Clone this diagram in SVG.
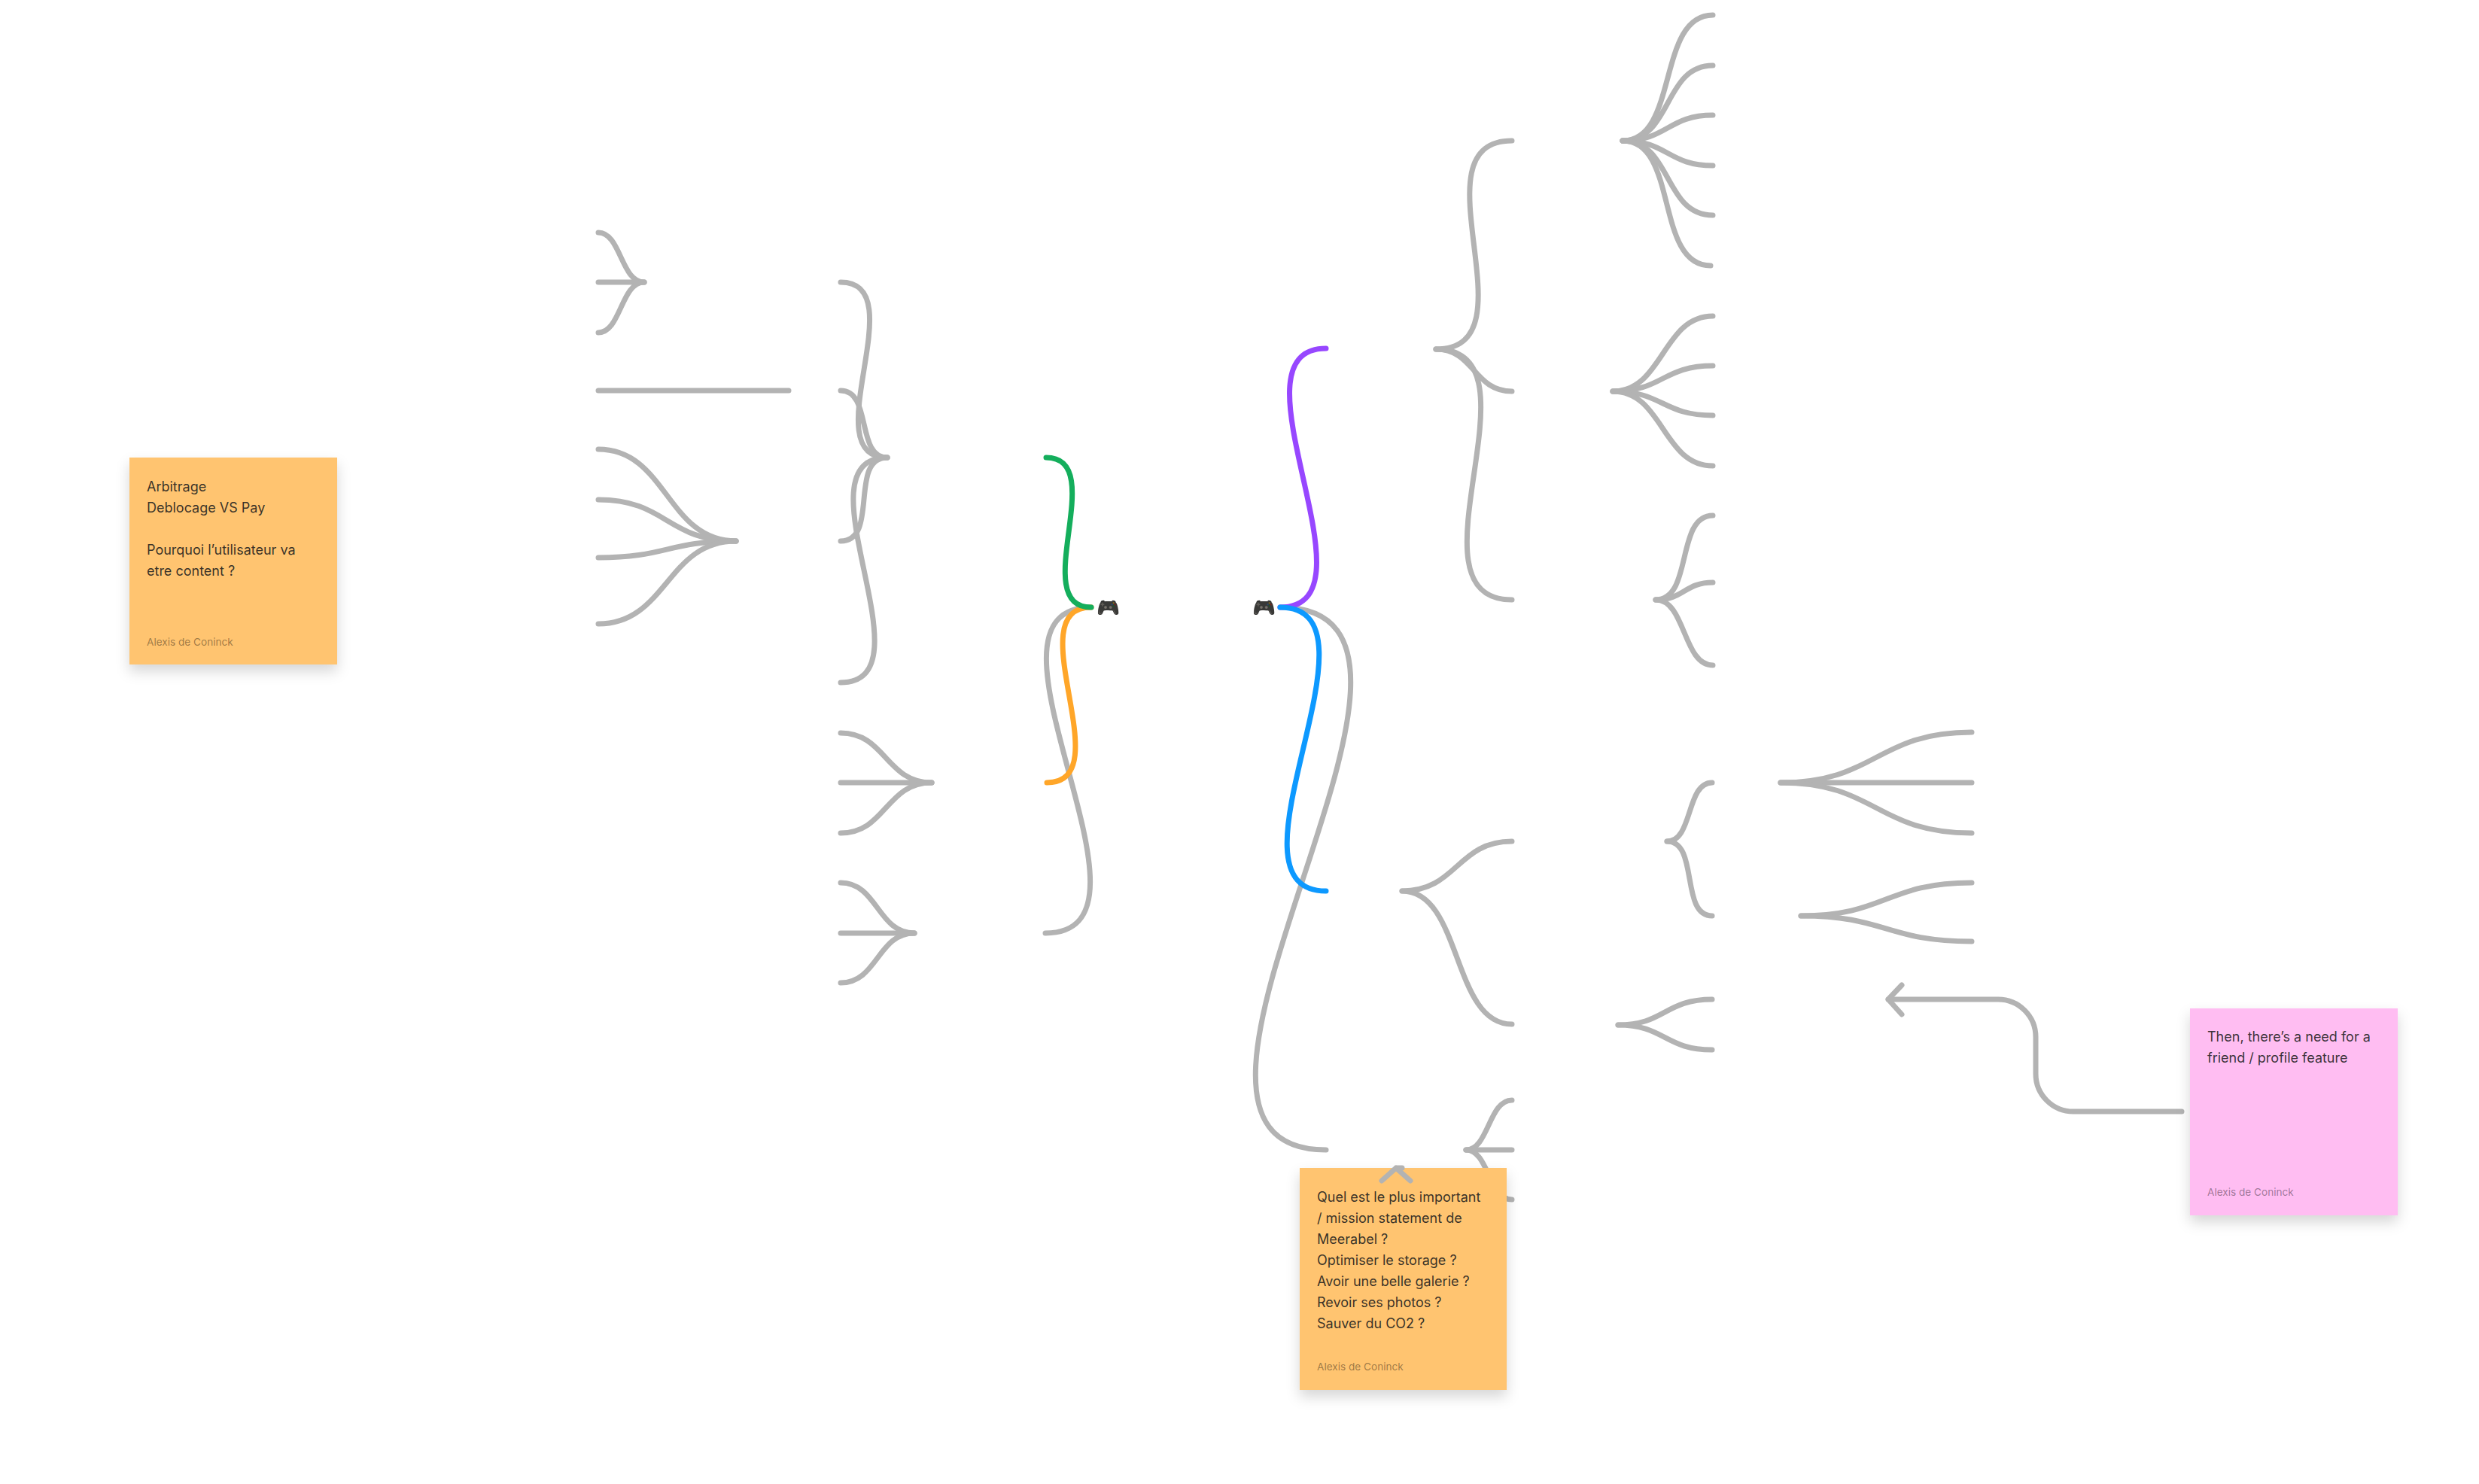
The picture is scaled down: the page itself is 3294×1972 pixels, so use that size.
<svg xmlns="http://www.w3.org/2000/svg" width="3294" height="1972" viewBox="0 0 3294 1972">
<style>
.c{fill:none;stroke:#b3b3b3;stroke-width:7;stroke-linecap:round;stroke-linejoin:round}
.t{font-family:Inter,"Liberation Sans",sans-serif;font-size:18px;fill:#1e1e1e;fill-opacity:.9}
.a{font-family:Inter,"Liberation Sans",sans-serif;font-size:13.6px;fill:#000;fill-opacity:.4}
.e{font-family:"Noto Color Emoji","Noto Sans",sans-serif;font-size:25px;filter:brightness(.55) sepia(.25)}
</style>
<defs>
<filter id="sh" x="-20%" y="-20%" width="140%" height="150%">
<feDropShadow dx="0" dy="9" stdDeviation="9" flood-color="#000" flood-opacity=".16"/>
</filter>
</defs>
<rect width="3294" height="1972" fill="#fff"/>
<g id="connectors">
<path class="c" d="M795 309C825 309 825 375 856 375"/>
<path class="c" d="M795 375H856"/>
<path class="c" d="M795 442C825 442 825 375 856 375"/>
<path class="c" d="M795 519H1048"/>
<path class="c" d="M795 597C886 597 886 719 978 719"/>
<path class="c" d="M795 664C886 664 886 719 978 719"/>
<path class="c" d="M795 741C886 741 886 719 978 719"/>
<path class="c" d="M795 829C886 829 886 719 978 719"/>
<path class="c" d="M1117 375C1217 375 1079 608 1179 608"/>
<path class="c" d="M1117 519C1159 519 1137 608 1179 608"/>
<path class="c" d="M1117 719C1169 719 1127 608 1179 608"/>
<path class="c" d="M1117 907C1242 907 1054 608 1179 608"/>
<path class="c" d="M1117 974C1177 974 1177 1040 1238 1040"/>
<path class="c" d="M1117 1040H1238"/>
<path class="c" d="M1117 1107C1177 1107 1177 1040 1238 1040"/>
<path class="c" d="M1117 1173C1166 1173 1166 1240 1215 1240"/>
<path class="c" d="M1117 1240H1215"/>
<path class="c" d="M1117 1306C1166 1306 1166 1240 1215 1240"/>
<path class="c" d="M1389 1240C1567 1240 1272 807 1450 807"/>
<path class="c" style="stroke:#ffa629" d="M1391 1040C1491 1040 1350 807 1450 807"/>
<path class="c" style="stroke:#14ae5c" d="M1390 608C1476 608 1364 807 1450 807"/>
<path class="c" d="M1701 807C1999 807 1464 1528 1762 1528"/>
<path class="c" style="stroke:#9747ff" d="M1701 807C1839 807 1624 463 1762 463"/>
<path class="c" style="stroke:#0d99ff" d="M1701 807C1851 807 1612 1184 1762 1184"/>
<path class="c" d="M1863 1184C1936 1184 1936 1118 2009 1118"/>
<path class="c" d="M1863 1184C1943 1184 1929 1361 2009 1361"/>
<path class="c" d="M1948 1528C1978 1528 1978 1462 2009 1462"/>
<path class="c" d="M1948 1528H2009"/>
<path class="c" d="M1948 1528C1978 1528 1978 1594 2009 1594"/>
<path class="c" d="M1908 464C2043 464 1874 187 2009 187"/>
<path class="c" d="M1908 464C1959 464 1958 520 2009 520"/>
<path class="c" d="M1908 464C2058 464 1859 797 2009 797"/>
<path class="c" d="M2156 187C2231 187 2201 20 2276 20"/>
<path class="c" d="M2156 187C2222 187 2210 87 2276 87"/>
<path class="c" d="M2156 187C2216 187 2216 153 2276 153"/>
<path class="c" d="M2156 187C2216 187 2216 220 2276 220"/>
<path class="c" d="M2156 187C2222 187 2210 286 2276 286"/>
<path class="c" d="M2156 187C2231 187 2198 353 2273 353"/>
<path class="c" d="M2143 520C2210 520 2209 420 2276 420"/>
<path class="c" d="M2143 520C2210 520 2209 486 2276 486"/>
<path class="c" d="M2143 520C2210 520 2209 552 2276 552"/>
<path class="c" d="M2143 520C2210 520 2209 619 2276 619"/>
<path class="c" d="M2200 797C2250 797 2226 685 2276 685"/>
<path class="c" d="M2200 797C2238 797 2238 774 2276 774"/>
<path class="c" d="M2200 797C2240 797 2236 884 2276 884"/>
<path class="c" d="M2215 1118C2250 1118 2240 1040 2275 1040"/>
<path class="c" d="M2215 1118C2258 1118 2232 1217 2275 1217"/>
<path class="c" d="M2366 1040C2493 1040 2493 973 2620 973"/>
<path class="c" d="M2366 1040H2620"/>
<path class="c" d="M2366 1040C2493 1040 2493 1107 2620 1107"/>
<path class="c" d="M2393 1217C2506 1217 2506 1173 2620 1173"/>
<path class="c" d="M2393 1217C2506 1217 2506 1251 2620 1251"/>
<path class="c" d="M2150 1362C2212 1362 2212 1328 2275 1328"/>
<path class="c" d="M2150 1362C2212 1362 2212 1395 2275 1395"/>
<path class="c" d="M2899 1477H2755A50 50 0 0 1 2705 1427V1378A50 50 0 0 0 2655 1328H2509"/>
<path class="c" d="M2527 1309L2509 1328L2527 1348"/>
</g>
<g id="emoji-left"><text class="e" x="1457" y="816">🎮</text></g>
<g id="emoji-right"><text class="e" x="1664" y="816">🎮</text></g>
<g id="sticky-arbitrage">
<rect x="172" y="608" width="276" height="275" fill="#ffc470" filter="url(#sh)"/>
<text class="t" x="195" y="653">Arbitrage</text>
<text class="t" x="195" y="681">Deblocage VS Pay</text>
<text class="t" x="195" y="737">Pourquoi l’utilisateur va</text>
<text class="t" x="195" y="765">etre content ?</text>
<text class="a" x="195" y="858">Alexis de Coninck</text>
</g>
<g id="sticky-mission">
<rect x="1727" y="1552" width="275" height="295" fill="#ffc470" filter="url(#sh)"/>
<text class="t" x="1750" y="1597">Quel est le plus important</text>
<text class="t" x="1750" y="1625">/ mission statement de</text>
<text class="t" x="1750" y="1653">Meerabel ?</text>
<text class="t" x="1750" y="1681">Optimiser le storage ?</text>
<text class="t" x="1750" y="1709">Avoir une belle galerie ?</text>
<text class="t" x="1750" y="1737">Revoir ses photos ?</text>
<text class="t" x="1750" y="1765">Sauver du CO2 ?</text>
<text class="a" x="1750" y="1821">Alexis de Coninck</text>
</g>
<g id="sticky-friend">
<rect x="2910" y="1340" width="276" height="275" fill="#ffbdf2" filter="url(#sh)"/>
<text class="t" x="2933" y="1384">Then, there’s a need for a</text>
<text class="t" x="2933" y="1412">friend / profile feature</text>
<text class="a" x="2933" y="1589">Alexis de Coninck</text>
</g>
<g id="connector-head">
<path class="c" d="M1836 1569L1855 1552L1874 1569M1855 1552H1863"/>
</g>
</svg>
